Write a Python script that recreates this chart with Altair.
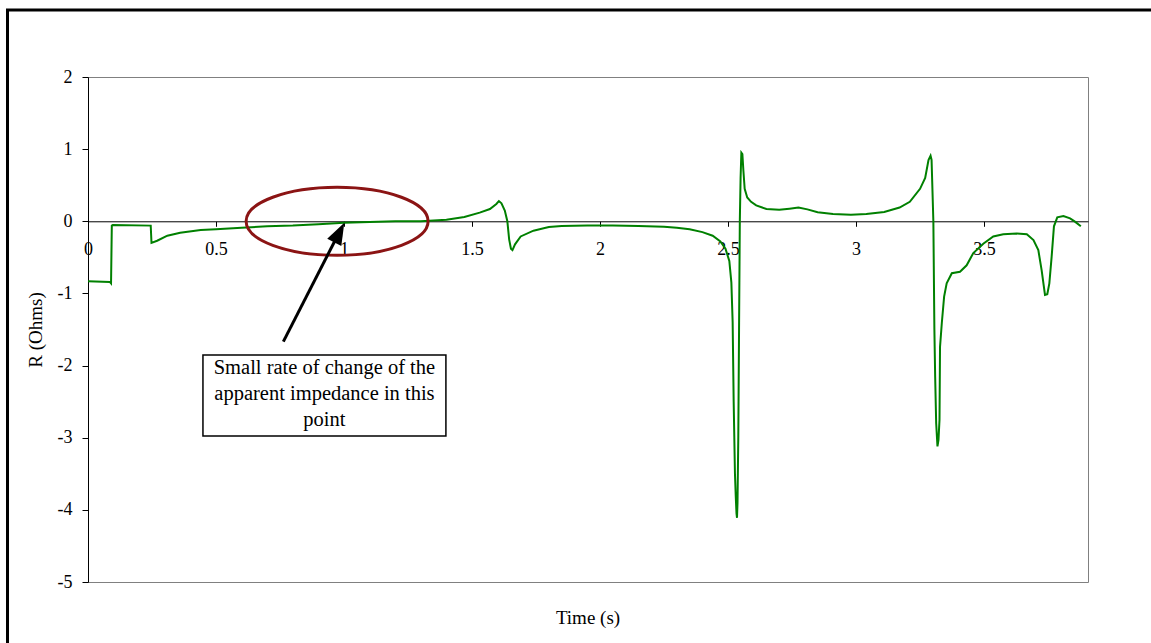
import altair as alt
import pandas as pd

# Apparent resistance seen by the relay over the disturbance
time_s = [
    0.000, 0.085, 0.090, 0.093, 0.097, 0.245, 0.248, 0.270, 0.310, 0.360,
    0.440, 0.500, 0.600, 0.700, 0.800, 0.900, 1.000, 1.100, 1.200, 1.300,
    1.400, 1.470, 1.530, 1.570, 1.595, 1.605, 1.615, 1.628, 1.638, 1.645,
    1.652, 1.658, 1.668, 1.690, 1.740, 1.800, 1.850, 1.950, 2.050, 2.150,
    2.250, 2.300, 2.350, 2.400, 2.440, 2.470, 2.490, 2.505, 2.513, 2.518,
    2.522, 2.527, 2.530, 2.533, 2.535, 2.537, 2.540, 2.543, 2.546, 2.549,
    2.552, 2.556, 2.560, 2.565, 2.575, 2.590, 2.610, 2.650, 2.700, 2.740,
    2.775, 2.810, 2.850, 2.910, 2.980, 3.040, 3.110, 3.170, 3.210, 3.250,
    3.270, 3.283, 3.291, 3.295, 3.302, 3.306, 3.309, 3.313, 3.318, 3.322,
    3.326, 3.328, 3.335, 3.344, 3.354, 3.374, 3.406, 3.432, 3.458, 3.497,
    3.536, 3.575, 3.628, 3.667, 3.693, 3.712, 3.725, 3.738, 3.747, 3.755,
    3.764, 3.773, 3.786, 3.810, 3.836, 3.855, 3.878,
]
r_ohms = [
    -0.83, -0.84, -0.86, -0.06, -0.05, -0.06, -0.30, -0.27, -0.20, -0.16,
    -0.12, -0.11, -0.09, -0.07, -0.06, -0.04, -0.02, -0.01, 0.00, 0.00,
    0.02, 0.06, 0.12, 0.17, 0.24, 0.28, 0.25, 0.15, 0.00, -0.25,
    -0.38, -0.40, -0.32, -0.21, -0.13, -0.08, -0.065, -0.06, -0.06, -0.065,
    -0.075, -0.09, -0.11, -0.15, -0.20, -0.28, -0.38, -0.55, -0.85, -1.40,
    -2.50, -3.50, -3.80, -4.05, -4.11, -3.90, -3.00, -1.50, 0.00, 0.60,
    0.95, 0.93, 0.70, 0.45, 0.33, 0.27, 0.22, 0.17, 0.16, 0.175,
    0.19, 0.165, 0.125, 0.10, 0.09, 0.10, 0.13, 0.19, 0.27, 0.45,
    0.60, 0.85, 0.91, 0.85, 0.00, -1.50, -2.15, -2.80, -3.12, -3.03,
    -2.75, -1.74, -1.41, -1.045, -0.86, -0.72, -0.70, -0.61, -0.44, -0.31,
    -0.21, -0.18, -0.17, -0.18, -0.26, -0.40, -0.68, -1.02, -1.01, -0.86,
    -0.49, -0.07, 0.055, 0.073, 0.04, -0.005, -0.07,
]

x_ticks = [0, 0.5, 1, 1.5, 2, 2.5, 3, 3.5]
y_ticks = [-5, -4, -3, -2, -1, 0, 1, 2]

# Annotation: circled region, arrow and callout box (data coordinates)
ring_center = {"t": [0.973], "r": [0.0]}
arrow_tail = {"t": 0.763, "r": -1.669}
arrow_neck = {"t": 0.965, "r": -0.266}
arrow_tip = {"t": 1.001, "r": -0.02}
callout_box = {"t0": 0.449, "t1": 1.398, "r0": -1.853, "r1": -2.976}
callout_lines = ["Small rate of change of the", "apparent impedance in this", "point"]
callout_first_r = -2.04

W, H = 1000, 505
X_MAX = 3.906
Y_MIN, Y_MAX = -5, 2
FONT = "Liberation Serif"
GREEN = "#008000"
RING = "#8B1414"

xs = alt.Scale(domain=[0, X_MAX], nice=False, zero=False)
ys = alt.Scale(domain=[Y_MIN, Y_MAX], nice=False)

# the x axis crosses at R = 0
zero_from_bottom = H * (0 - Y_MIN) / (Y_MAX - Y_MIN)

curve = pd.DataFrame({"t": time_s, "r": r_ohms, "i": range(len(time_s))})

line = alt.Chart(curve).mark_line(color=GREEN, strokeWidth=2).encode(
    x=alt.X(
        "t:Q", scale=xs, title=None,
        axis=alt.Axis(
            values=x_ticks, labelExpr="'' + datum.value", offset=-zero_from_bottom,
            grid=False, domainColor="black", domainWidth=1,
            tickColor="black", tickSize=5, labelPadding=14,
            labelFont=FONT, labelFontSize=18, labelColor="black",
            labelFlush=False, labelOverlap=False,
        ),
    ),
    y=alt.Y(
        "r:Q", scale=ys, title="R (Ohms)",
        axis=alt.Axis(
            values=y_ticks, labelExpr="'' + datum.value",
            grid=False, domainColor="black", domainWidth=1,
            tickColor="black", tickSize=6, labelPadding=10,
            labelFont=FONT, labelFontSize=18, labelColor="black",
            titleFont=FONT, titleFontSize=19, titleFontWeight="normal",
            titleColor="black", titlePadding=12,
        ),
    ),
    order="i:Q",
)

# outer frame around the whole figure
frame = alt.Chart(pd.DataFrame({"k": [0]})).mark_rect(
    fillOpacity=0, stroke="black", strokeWidth=3
).encode(
    x=alt.value(-80.5), x2=alt.value(1200), y=alt.value(-67), y2=alt.value(700)
)

x_title = alt.Chart(pd.DataFrame({"k": [0]})).mark_text(
    text="Time (s)", font=FONT, fontSize=19, color="black",
    align="center", baseline="middle",
).encode(x=alt.value(W / 2), y=alt.value(H + 36))

k = 34 / 91
c = 0.5523
ell = (
    f"M -1 0 C -1 {-k*c:.4f} {-c} {-k:.4f} 0 {-k:.4f} "
    f"C {c} {-k:.4f} 1 {-k*c:.4f} 1 0 "
    f"C 1 {k*c:.4f} {c} {k:.4f} 0 {k:.4f} "
    f"C {-c} {k:.4f} -1 {k*c:.4f} -1 0 Z"
)
ring = alt.Chart(pd.DataFrame(ring_center)).mark_point(
    shape=ell, size=182 ** 2, filled=False, stroke=RING, strokeWidth=3, opacity=1
).encode(x=alt.X("t:Q", scale=xs), y=alt.Y("r:Q", scale=ys))

shaft = alt.Chart(pd.DataFrame({
    "t": [arrow_tail["t"]], "r": [arrow_tail["r"]],
    "t2": [arrow_neck["t"]], "r2": [arrow_neck["r"]],
})).mark_rule(color="black", strokeWidth=3).encode(
    x=alt.X("t:Q", scale=xs), y=alt.Y("r:Q", scale=ys), x2="t2:Q", y2="r2:Q"
)

head = alt.Chart(pd.DataFrame({"t": [arrow_tip["t"]], "r": [arrow_tip["r"]]})).mark_point(
    shape="M 0 0 L 0.36 1 L -0.36 1 Z", size=44 ** 2, filled=True,
    color="black", opacity=1, angle=27, strokeWidth=0,
).encode(x=alt.X("t:Q", scale=xs), y=alt.Y("r:Q", scale=ys))

box = alt.Chart(pd.DataFrame({k2: [v] for k2, v in callout_box.items()})).mark_rect(
    fill="white", stroke="black", strokeWidth=1.5
).encode(
    x=alt.X("t0:Q", scale=xs), x2="t1:Q", y=alt.Y("r0:Q", scale=ys), y2="r1:Q"
)

box_text = alt.Chart(pd.DataFrame({
    "t": [(callout_box["t0"] + callout_box["t1"]) / 2],
    "r": [callout_first_r],
    "s": ["\n".join(callout_lines)],
})).mark_text(
    font=FONT, fontSize=20.5, color="black", align="center", baseline="middle",
    lineBreak="\n", lineHeight=26,
).encode(x=alt.X("t:Q", scale=xs), y=alt.Y("r:Q", scale=ys), text="s:N")

chart = alt.layer(
    frame, line, ring, shaft, head, box, box_text, x_title
).properties(
    width=W, height=H,
    padding={"left": 88, "top": 77, "right": 63, "bottom": 61},
    autosize=alt.AutoSizeParams(type="none"),
    background="white",
).configure_view(
    stroke="#808080", strokeWidth=1
)

chart.save("out.html", embed_options={"renderer": "svg", "actions": False})
